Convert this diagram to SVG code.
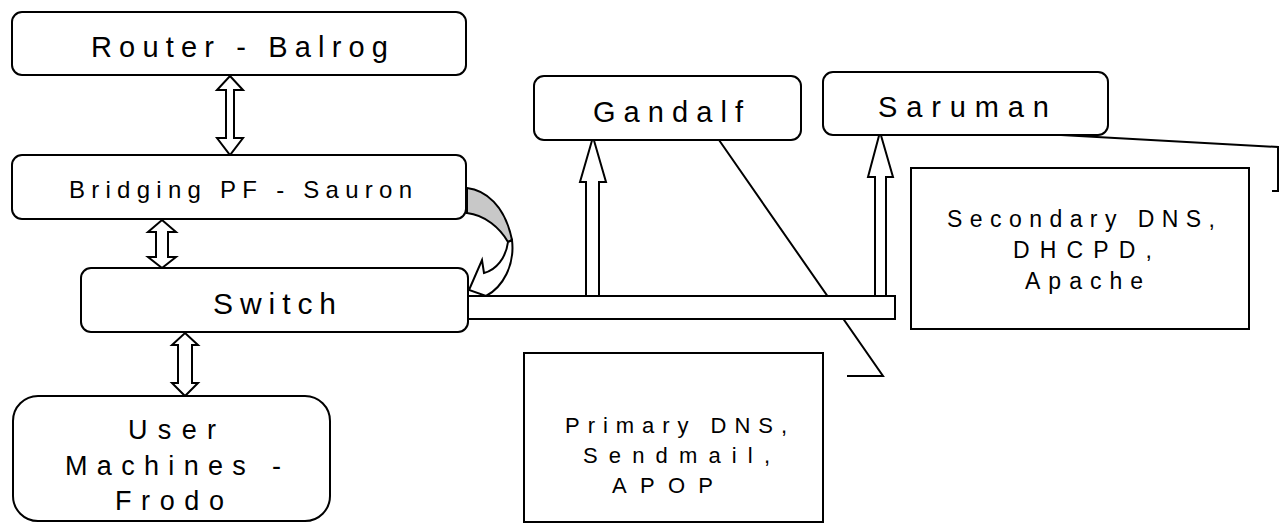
<svg xmlns="http://www.w3.org/2000/svg" width="1285" height="523" viewBox="0 0 1285 523">
<style>
.box{fill:#fff;stroke:#000;stroke-width:2}
.t{font-family:"Liberation Sans",Arial,sans-serif;fill:#000}
.ln{fill:none;stroke:#000;stroke-width:2}
.ar{fill:#fff;stroke:#000;stroke-width:2;stroke-linejoin:miter}
</style>
<rect width="1285" height="523" fill="#fff"/>
<g id="connectors">
<polyline class="ln" points="719,140 883,376 847,376"/>
<polyline class="ln" points="1043,134 1278,147 1278,191 1272,191"/>
<polygon class="ar" points="230,76 243,90 234,90 234,138 243,138 230,155 217,138 226,138 226,90 217,90"/>
<polygon class="ar" points="162,220 176,232 168,232 168,257 176,257 162,268 148,257 156,257 156,232 148,232"/>
<polygon class="ar" points="185,333 198,345 192,345 192,383 198,383 185,396 172,383 178,383 178,345 172,345"/>
<polygon class="ar" points="586,297 586,182 580,182 593,137 606,182 599,182 599,297"/>
<polygon class="ar" points="875,297 875,177 868,177 880,132 893,177 886,177 886,297"/>
</g>
<g id="router">
<rect class="box" x="12" y="12" width="454" height="63" rx="10"/>
<text class="t" x="91" y="57" font-size="29" textLength="297" lengthAdjust="spacing">Router - Balrog</text>
</g>
<g id="bridging">
<rect class="box" x="12" y="155" width="454" height="64" rx="10"/>
<text class="t" x="69" y="198" font-size="24" textLength="343" lengthAdjust="spacing">Bridging PF - Sauron</text>
</g>
<g id="switch">
<rect class="box" x="81" y="268" width="387" height="64" rx="10"/>
<text class="t" x="213" y="314" font-size="30" textLength="123" lengthAdjust="spacing">Switch</text>
</g>
<g id="user">
<rect class="box" x="13" y="396" width="317" height="125" rx="25"/>
<text class="t" x="128" y="439" font-size="27" textLength="88" lengthAdjust="spacing">User</text>
<text class="t" x="65" y="475" font-size="27" textLength="216" lengthAdjust="spacing">Machines -</text>
<text class="t" x="115" y="510" font-size="27" textLength="109" lengthAdjust="spacing">Frodo</text>
</g>
<g id="gandalf">
<rect class="box" x="534" y="76" width="267" height="64" rx="10"/>
<text class="t" x="593" y="122" font-size="29" textLength="150" lengthAdjust="spacing">Gandalf</text>
</g>
<g id="saruman">
<rect class="box" x="823" y="72" width="285" height="63" rx="10"/>
<text class="t" x="878" y="117" font-size="29" textLength="171" lengthAdjust="spacing">Saruman</text>
</g>
<g id="secondary">
<rect class="box" x="911" y="168" width="338" height="161"/>
<text class="t" x="947" y="227" font-size="23" textLength="268" lengthAdjust="spacing">Secondary DNS,</text>
<text class="t" x="1013" y="258" font-size="23" textLength="139" lengthAdjust="spacing">DHCPD,</text>
<text class="t" x="1025" y="289" font-size="23" textLength="118" lengthAdjust="spacing">Apache</text>
</g>
<g id="primary">
<rect class="box" x="524" y="353" width="299" height="169"/>
<text class="t" x="565" y="433" font-size="22" textLength="222" lengthAdjust="spacing">Primary DNS,</text>
<text class="t" x="583" y="463" font-size="22" textLength="187" lengthAdjust="spacing">Sendmail,</text>
<text class="t" x="612" y="493" font-size="22" textLength="101" lengthAdjust="spacing">APOP</text>
</g>
<g id="bus">
<rect class="box" x="468" y="296" width="427" height="23"/>
</g>
<g id="loop-arrow">
<path d="M467 188 C485 190 505 205 512 240 L508 242 C500 228 485 215 467 213 Z" fill="#c8c8c8" stroke="#000" stroke-width="2"/>
<path class="ar" d="M512 240 C515 265 503 287 486 296 L469 290 L482 260 L484 273 C496 270 506 258 508 242 Z"/>
</g>
</svg>
